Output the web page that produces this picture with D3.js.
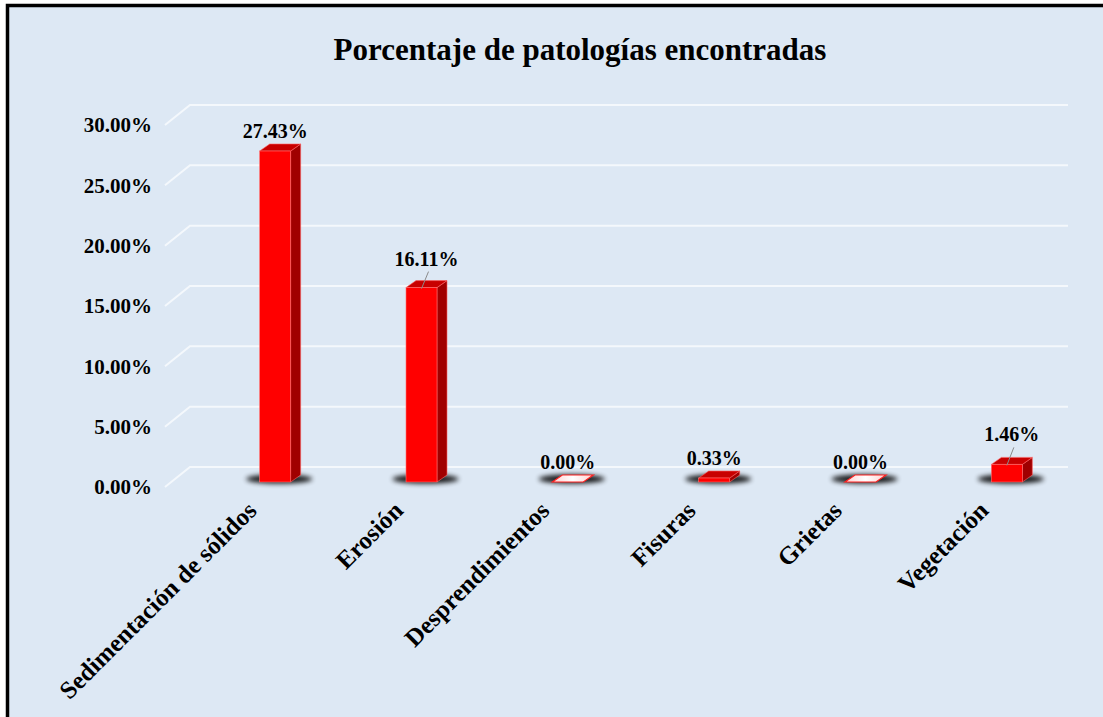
<!DOCTYPE html>
<html>
<head>
<meta charset="utf-8">
<script src="https://cdn.jsdelivr.net/npm/d3@7"></script>
<style>
  body { margin: 0; background: #fff; }
  svg { display: block; }
</style>
</head>
<body>
<div id="chart"></div>
<script>
// Data
const categories = ["Sedimentación de sólidos", "Erosión", "Desprendimientos", "Fisuras", "Grietas", "Vegetación"];
const values = [27.43, 16.11, 0.00, 0.33, 0.00, 1.46];
const yTicks = [0, 5, 10, 15, 20, 25, 30];
const chartTitle = "Porcentaje de patologías encontradas";

// Constants
const WIDTH = 1103, HEIGHT = 717;
const FONT = "'Liberation Serif', 'Times New Roman', serif";
const WALL = { dx: 25, dy: -20 };      // back wall offset from the front edge
const BAR_SHIFT = { dx: 6, dy: 15 };   // bar plane relative to back wall
const BAR_W = 31;
const CAP = { dx: 10, dy: -7 };        // depth of each column
const LABEL_LIFT = { "Erosión": 9, "Vegetación": 10 };

const svg = d3.select("#chart").append("svg")
  .attr("width", WIDTH)
  .attr("height", HEIGHT);

const defs = svg.append("defs");
defs.append("filter").attr("id", "shadow")
  .attr("x", "-50%").attr("y", "-200%").attr("width", "200%").attr("height", "500%")
  .append("feGaussianBlur").attr("stdDeviation", 2.5);

const flatGrad = defs.append("linearGradient").attr("id", "flat")
  .attr("x1", 0).attr("x2", 1).attr("y1", 0).attr("y2", 0);
flatGrad.append("stop").attr("offset", "0%").attr("stop-color", "#ffd0d0");
flatGrad.append("stop").attr("offset", "50%").attr("stop-color", "#ffffff");
flatGrad.append("stop").attr("offset", "100%").attr("stop-color", "#ffd0d0");

// Frame
svg.append("rect")
  .attr("x", 7.5).attr("y", 5.5)
  .attr("width", WIDTH + 50).attr("height", HEIGHT + 50)
  .attr("fill", "#dde8f4")
  .attr("stroke", "#000")
  .attr("stroke-width", 3.5);

// Scales (back wall)
const x = d3.scaleBand().domain(categories).range([202, 1080]).padding(0);
const y = d3.scaleLinear().domain([0, 30]).range([467, 105]);
const wallLeft = 190, wallRight = 1068;

// Title
svg.append("text")
  .attr("x", 580).attr("y", 60)
  .attr("text-anchor", "middle")
  .attr("font-family", FONT)
  .attr("font-weight", "bold")
  .attr("font-size", 31)
  .text(chartTitle);

// Gridlines
const grid = svg.append("g");
yTicks.forEach(t => {
  const yy = y(t);
  grid.append("path")
    .attr("d", `M${wallLeft - WALL.dx},${yy - WALL.dy}L${wallLeft},${yy}L${wallRight},${yy}`)
    .attr("fill", "none")
    .attr("stroke", "#f4f8fc")
    .attr("stroke-width", 2);
});

// Tick labels
svg.append("g").selectAll("text")
  .data(yTicks)
  .enter().append("text")
  .attr("x", 152)
  .attr("y", d => y(d) - WALL.dy)
  .attr("dy", "0.35em")
  .attr("text-anchor", "end")
  .attr("font-family", FONT)
  .attr("font-weight", "bold")
  .attr("font-size", 21)
  .text(d => d3.format(".2f")(d) + "%");

// Bars
const bars = categories.map((c, i) => {
  const cx = x(c) + x.bandwidth() / 2;
  const left = cx - BAR_W / 2;
  const base = y(0) + BAR_SHIFT.dy;
  const top = y(values[i]) + BAR_SHIFT.dy;
  return { c, v: values[i], cx, left, right: left + BAR_W, base, top };
});

const barG = svg.append("g");

// shadows: dark blur under the base
barG.selectAll(".shadow")
  .data(bars)
  .enter().append("ellipse")
  .attr("class", "shadow")
  .attr("cx", d => d.cx + 4)
  .attr("cy", d => d.base - 3)
  .attr("rx", 33)
  .attr("ry", 4.5)
  .attr("fill", "#000")
  .attr("opacity", 0.9)
  .attr("filter", "url(#shadow)");

bars.forEach(d => {
  const g = barG.append("g");
  if (d.v === 0) {
    g.append("path")
      .attr("d", `M${d.left},${d.base}L${d.right},${d.base}L${d.right + CAP.dx},${d.base + CAP.dy}L${d.left + CAP.dx},${d.base + CAP.dy}Z`)
      .attr("fill", "url(#flat)")
      .attr("stroke", "#ff2020")
      .attr("stroke-width", 1.2);
    return;
  }
  // side
  g.append("path")
    .attr("d", `M${d.right},${d.base}L${d.right + CAP.dx},${d.base + CAP.dy}L${d.right + CAP.dx},${d.top + CAP.dy}L${d.right},${d.top}Z`)
    .attr("fill", "#a00000")
    .attr("stroke", "#ff6060")
    .attr("stroke-width", 0.6);
  // top
  g.append("path")
    .attr("d", `M${d.left},${d.top}L${d.right},${d.top}L${d.right + CAP.dx},${d.top + CAP.dy}L${d.left + CAP.dx},${d.top + CAP.dy}Z`)
    .attr("fill", "#c80000")
    .attr("stroke", "#ff6060")
    .attr("stroke-width", 0.6);
  // front
  g.append("rect")
    .attr("x", d.left).attr("y", d.top)
    .attr("width", BAR_W).attr("height", d.base - d.top)
    .attr("fill", "#ff0000")
    .attr("stroke", "#ff7070")
    .attr("stroke-width", 0.6);
});

// Value labels
const labelG = svg.append("g");
bars.forEach(d => {
  const lift = LABEL_LIFT[d.c] || 0;
  const capTop = d.top + CAP.dy;
  const ly = capTop - 6 - lift;
  const lx = d.cx + (lift ? 5 : 0);
  if (lift) {
    labelG.append("line")
      .attr("x1", lx + 2).attr("y1", ly + 6)
      .attr("x2", d.cx).attr("y2", d.top + 1)
      .attr("stroke", "#8a8a8a")
      .attr("stroke-width", 1);
  }
  labelG.append("text")
    .attr("x", lx).attr("y", ly)
    .attr("text-anchor", "middle")
    .attr("font-family", FONT)
    .attr("font-weight", "bold")
    .attr("font-size", 20)
    .text(d3.format(".2f")(d.v) + "%");
});

// Category labels
svg.append("g").selectAll("text")
  .data(bars)
  .enter().append("text")
  .attr("transform", d => `translate(${d.cx - 17},${d.base + 30}) rotate(-45)`)
  .attr("text-anchor", "end")
  .attr("font-family", FONT)
  .attr("font-weight", "bold")
  .attr("font-size", 25)
  .text(d => d.c);
</script>
</body>
</html>
